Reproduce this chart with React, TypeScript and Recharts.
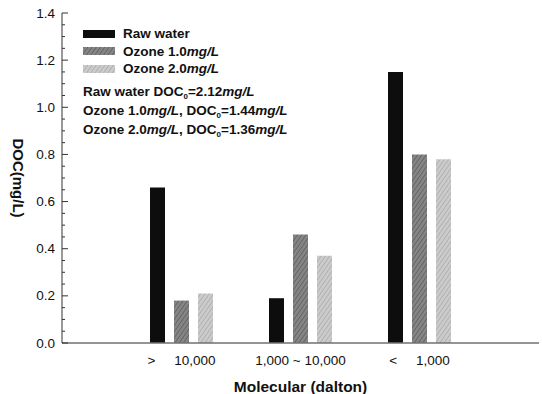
import { Bar, BarChart, Legend, XAxis, YAxis } from "recharts"

const categories = [">     10,000", "1,000 ~ 10,000", "<     1,000"]
const rawWater = [0.66, 0.19, 1.15]
const ozone10 = [0.18, 0.46, 0.8]
const ozone20 = [0.21, 0.37, 0.78]
const seriesKeys = ["raw", "oz1", "oz2"]
const yTicks = [
  0, 0.05, 0.1, 0.15, 0.2, 0.25, 0.3, 0.35, 0.4, 0.45, 0.5, 0.55, 0.6, 0.65, 0.7, 0.75, 0.8, 0.85, 0.9,
  0.95, 1.0, 1.05, 1.1, 1.15, 1.2, 1.25, 1.3, 1.35, 1.4,
]
const yMajor = [0, 0.2, 0.4, 0.6, 0.8, 1.0, 1.2, 1.4]

const data = categories.map((name, i) => ({
  name,
  raw: rawWater[i],
  oz1: ozone10[i],
  oz2: ozone20[i],
}))

const FONT = "'Liberation Sans', Arial, sans-serif"

function YTick({ x, y, payload }: any) {
  const v = payload.value
  const major = yMajor.some((m) => Math.abs(m - v) < 1e-6)
  return (
    <g>
      <line x1={x + 7} x2={x + 7 + (major ? 6 : 3)} y1={y} y2={y} stroke="#333" strokeWidth={1} />
      {major && (
        <text x={x} y={y} textAnchor="end" dominantBaseline="central" fontFamily={FONT} fontSize={13.5} fill="#111">
          {v.toFixed(1)}
        </text>
      )}
    </g>
  )
}

function XTick({ x, y, payload }: any) {
  return (
    <text x={x} y={y} dy="0.71em" textAnchor="middle" fontFamily={FONT} fontSize={13.5} fill="#111" style={{ whiteSpace: "pre" }}>
      {payload.value}
    </text>
  )
}

function Sub({ children }: { children: React.ReactNode }) {
  return <span style={{ fontSize: 8, verticalAlign: -3, lineHeight: 0 }}>{children}</span>
}

const noteStyle = { height: 19, lineHeight: "19px" }

function LegendBox({ payload }: any) {
  const rows = [...(payload ?? [])].sort(
    (a: any, b: any) => seriesKeys.indexOf(a.dataKey) - seriesKeys.indexOf(b.dataKey),
  )
  return (
    <div style={{ fontFamily: FONT, fontWeight: "bold", fontSize: 13.5, color: "#111" }}>
      {rows.map((p: any) => {
        const [label, unit] = String(p.value).split("|")
        return (
          <div key={p.dataKey} style={{ display: "flex", alignItems: "center", height: 17.5 }}>
            <svg width={32} height={8} style={{ marginRight: 8 }}>
              <rect width={32} height={8} fill={p.color} />
            </svg>
            <span>
              {label}
              {unit && <i>{unit}</i>}
            </span>
          </div>
        )
      })}
      <div style={{ ...noteStyle, marginTop: 4 }}>
        Raw water DOC<Sub>0</Sub>=2.12<i>mg/L</i>
      </div>
      <div style={noteStyle}>
        Ozone 1.0<i>mg/L</i>, DOC<Sub>0</Sub>=1.44<i>mg/L</i>
      </div>
      <div style={noteStyle}>
        Ozone 2.0<i>mg/L</i>, DOC<Sub>0</Sub>=1.36<i>mg/L</i>
      </div>
    </div>
  )
}

export default function App() {
  return (
    <div style={{ position: "absolute", left: 0, top: 0, width: 542, height: 394, background: "#fff", fontFamily: FONT }}>
      <BarChart width={542} height={394} data={data} margin={{ top: 13, right: 3, bottom: 0, left: 0 }} barSize={15} barGap={9}>
        <defs>
          <pattern id="hatchDark" width="3.5" height="3.5" patternUnits="userSpaceOnUse" patternTransform="rotate(35)">
            <rect width="3.5" height="3.5" fill="#858585" />
            <line x1="0" y1="0" x2="0" y2="3.5" stroke="#5a5a5a" strokeWidth="1.4" />
          </pattern>
          <pattern id="hatchLight" width="3.5" height="3.5" patternUnits="userSpaceOnUse" patternTransform="rotate(35)">
            <rect width="3.5" height="3.5" fill="#cbcbcb" />
            <line x1="0" y1="0" x2="0" y2="3.5" stroke="#a8a8a8" strokeWidth="1.4" />
          </pattern>
        </defs>
        <XAxis
          dataKey="name"
          padding={{ left: 60, right: 60 }}
          height={51}
          tick={<XTick />}
          tickSize={0}
          tickMargin={12}
          interval={0}
          stroke="#707070"
          strokeWidth={1.5}
          label={(props: any) => {
            const vb = props.viewBox
            return (
              <text
                x={vb.x + vb.width / 2}
                y={vb.y + 43}
                textAnchor="middle"
                dominantBaseline="central"
                fontFamily={FONT}
                fontWeight="bold"
                fontSize={15.5}
                fill="#111"
              >
                Molecular (dalton)
              </text>
            )
          }}
        />
        <XAxis xAxisId="top" dataKey="name" orientation="top" height={0} tick={false} tickLine={false} stroke="#333" />
        <YAxis
          domain={[0, 1.4]}
          ticks={yTicks}
          interval={0}
          width={62}
          tick={<YTick />}
          tickSize={0}
          tickMargin={7}
          stroke="#333"
          label={(props: any) => {
            const vb = props.viewBox
            const cx = vb.x + 18
            const cy = vb.y + vb.height / 2
            return (
              <text
                x={cx}
                y={cy}
                transform={`rotate(90 ${cx} ${cy})`}
                textAnchor="middle"
                dominantBaseline="central"
                fontFamily={FONT}
                fontWeight="bold"
                fontSize={15}
                fill="#111"
              >
                DOC(mg/L)
              </text>
            )
          }}
        />
        <YAxis yAxisId="right" orientation="right" domain={[0, 1.4]} width={0} tick={false} tickLine={false} stroke="#555" />
        <Legend
          layout="vertical"
          align="center"
          verticalAlign="middle"
          content={<LegendBox />}
          wrapperStyle={{ top: 25, left: 83, width: 260 }}
        />
        <Bar dataKey="raw" name="Raw water" fill="#0d0d0d" isAnimationActive={false} />
        <Bar dataKey="oz1" name="Ozone 1.0|mg/L" fill="url(#hatchDark)" isAnimationActive={false} />
        <Bar dataKey="oz2" name="Ozone 2.0|mg/L" fill="url(#hatchLight)" isAnimationActive={false} />
      </BarChart>
    </div>
  )
}
